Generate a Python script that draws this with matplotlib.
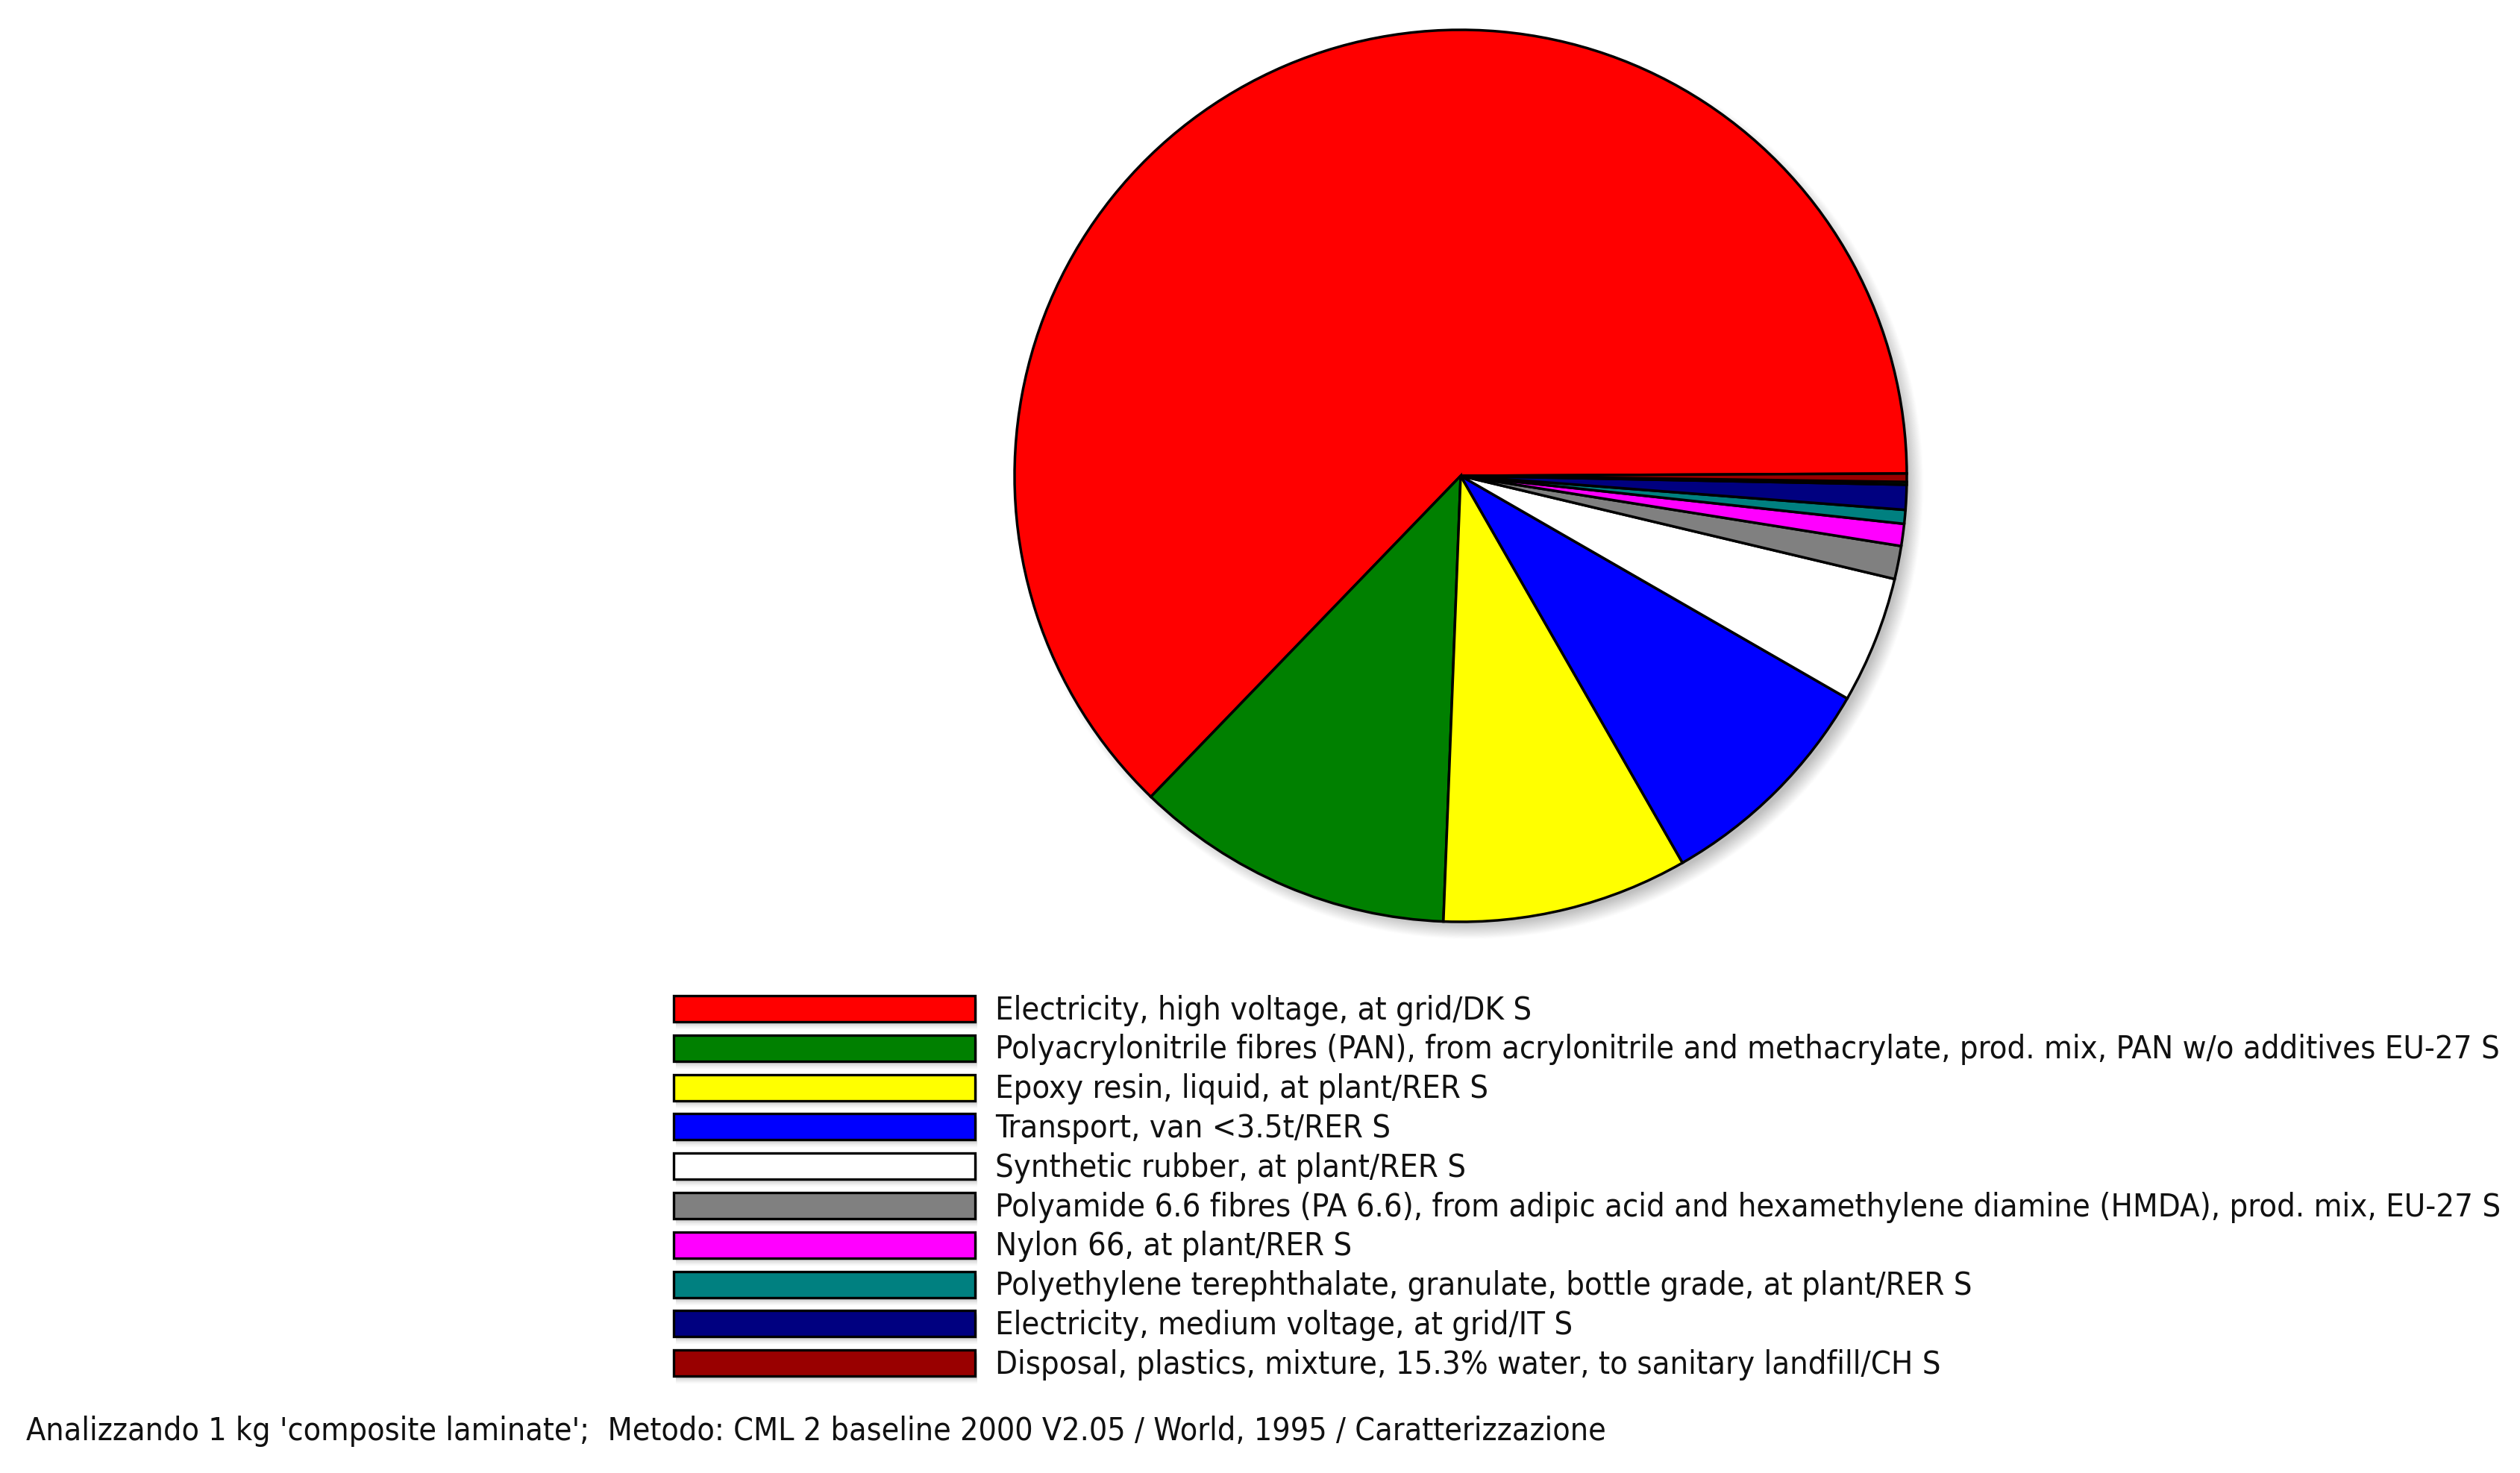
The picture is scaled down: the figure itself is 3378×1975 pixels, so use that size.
import numpy as np
import matplotlib
matplotlib.use("Agg")
import matplotlib.pyplot as plt
from matplotlib.patches import Rectangle

W, H = 3378, 1975
DPI = 100

categories = [
    "Electricity, high voltage, at grid/DK S",
    "Polyacrylonitrile fibres (PAN), from acrylonitrile and methacrylate, prod. mix, PAN w/o additives EU-27 S",
    "Epoxy resin, liquid, at plant/RER S",
    "Transport, van <3.5t/RER S",
    "Synthetic rubber, at plant/RER S",
    "Polyamide 6.6 fibres (PA 6.6), from adipic acid and hexamethylene diamine (HMDA), prod. mix, EU-27 S",
    "Nylon 66, at plant/RER S",
    "Polyethylene terephthalate, granulate, bottle grade, at plant/RER S",
    "Electricity, medium voltage, at grid/IT S",
    "Disposal, plastics, mixture, 15.3% water, to sanitary landfill/CH S",
]
shares = [62.7, 11.6, 8.9, 8.4, 4.6, 1.2, 0.8, 0.5, 0.9, 0.3]
colors = ["#ff0000", "#008000", "#ffff00", "#0000ff", "#ffffff",
          "#808080", "#ff00ff", "#008080", "#000080", "#990000"]
remaining_share = 0.1          # unlabeled thin slice
remaining_color = "#00d000"

footer = ("Analizzando 1 kg 'composite laminate';  Metodo: CML 2 baseline 2000 V2.05 / "
          "World, 1995 / Caratterizzazione")

fig = plt.figure(figsize=(W / DPI, H / DPI), dpi=DPI)
fig.patch.set_facecolor("white")

# ---- pie axes (pixel layout) ----
cx, cy, R = 1958, 638, 598
lim = 1.1
ax = fig.add_axes([(cx - lim * R) / W, (H - cy - lim * R) / H,
                   2 * lim * R / W, 2 * lim * R / H])

# soft shadow
n = 700
g = np.linspace(-lim, lim, n)
X, Y = np.meshgrid(g, g)
off_x, off_y = 12 / R, -13 / R
d = np.hypot(X - off_x, Y - off_y)
w = 22 / R
alpha = 0.55 * np.clip((1.0 - d) / w + 0.5, 0, 1)
img = np.zeros((n, n, 4))
img[..., :3] = 0.55
img[..., 3] = alpha
ax.imshow(img, extent=(-lim, lim, -lim, lim), origin="lower",
          interpolation="bilinear", zorder=0)

wedge_vals = shares[:9] + [remaining_share] + shares[9:]
wedge_cols = colors[:9] + [remaining_color] + colors[9:]
ax.pie(wedge_vals, colors=wedge_cols, startangle=0.3, counterclock=True,
       radius=1.0, wedgeprops=dict(edgecolor="black", linewidth=2.5),
       normalize=True)
ax.set_xlim(-lim, lim)
ax.set_ylim(-lim, lim)
ax.set_aspect("equal")
ax.axis("off")

# ---- overlay axes in pixel coordinates for legend & footer ----
ov = fig.add_axes([0, 0, 1, 1])
ov.set_xlim(0, W)
ov.set_ylim(H, 0)
ov.axis("off")

sw_x0, sw_x1 = 903, 1307
sw_h = 35
row0, dy = 1352.5, 52.8
text_x = 1334
txt_color = "#111111"

fam = ["DejaVu Sans"]
stretch = "condensed"
base_fs = 20
# fit font size to the longest label width
probe = ov.text(text_x, 0, categories[1], fontsize=base_fs, family=fam,
                fontstretch=stretch)
fig.canvas.draw()
bw = probe.get_window_extent(fig.canvas.get_renderer()).width
probe.remove()
fs = base_fs * 2018.0 / bw

for i, (lab, col) in enumerate(zip(categories, colors)):
    yc = row0 + i * dy
    # swatch shadow
    for k, a in enumerate([0.10, 0.08, 0.06, 0.04]):
        ov.add_patch(Rectangle((sw_x0 + 3, yc - sw_h / 2 + 4 + k * 2), sw_x1 - sw_x0,
                               sw_h, facecolor="#606060", edgecolor="none",
                               alpha=a, zorder=1))
    ov.add_patch(Rectangle((sw_x0, yc - sw_h / 2), sw_x1 - sw_x0, sw_h,
                           facecolor=col, edgecolor="black", linewidth=2.4, zorder=2))
    ov.text(text_x, yc + 14, lab, fontsize=fs, family=fam, fontstretch=stretch,
            color=txt_color, ha="left", va="baseline", zorder=3)

ft = ov.text(35, 1931, footer, fontsize=fs, family=fam, fontstretch=stretch,
             color=txt_color, ha="left", va="baseline")
fig.canvas.draw()
fw = ft.get_window_extent(fig.canvas.get_renderer()).width
ft.set_fontsize(fs * 2118.0 / fw)

fig.savefig("out.png", dpi=DPI, facecolor="white")
